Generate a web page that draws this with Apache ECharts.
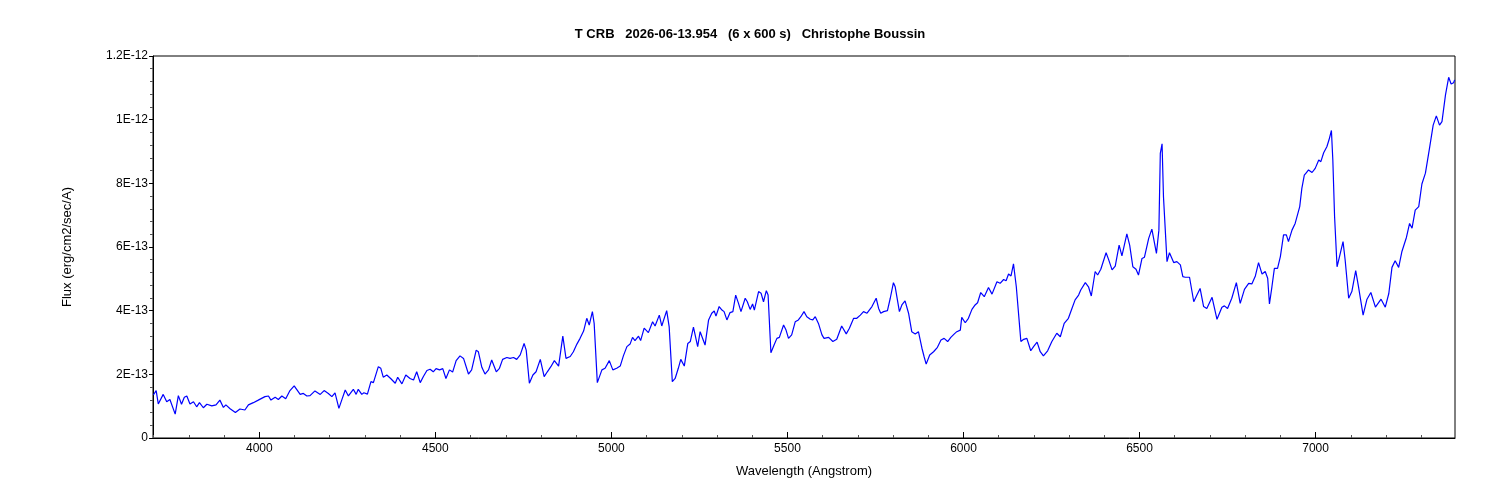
<!DOCTYPE html>
<html>
<head>
<meta charset="utf-8">
<script src="https://cdn.jsdelivr.net/npm/echarts@6/dist/echarts.min.js"></script>
<style>
  html, body { margin: 0; padding: 0; background: #fff; }
  #chart { width: 1500px; height: 500px; }
</style>
</head>
<body>
<div id="chart"></div>
<script>
// spectrum, flux in units of 1E-13 erg/cm2/sec/A
const wavelength = [
  3699, 3707, 3713, 3727, 3737, 3746, 3761, 3770, 3779, 3787, 3794, 3803, 3813, 3822, 3830, 3841,
  3851, 3865, 3877, 3888, 3898, 3905, 3917, 3932, 3945, 3959, 3969, 3983, 3997, 4016, 4026, 4033,
  4045, 4054, 4064, 4075, 4087, 4099, 4106, 4116, 4125, 4135, 4144, 4158, 4173, 4184, 4196, 4206,
  4215, 4226, 4234, 4244, 4253, 4267, 4275, 4281, 4291, 4297, 4307, 4317, 4324, 4338, 4345, 4352,
  4362, 4373, 4386, 4393, 4405, 4416, 4428, 4438, 4447,
  4457, 4466, 4476, 4485, 4494, 4502, 4512, 4521, 4530, 4540, 4549, 4559, 4570, 4580, 4594, 4603,
  4616, 4622, 4632, 4641, 4651, 4660, 4673, 4682, 4691, 4703, 4712, 4722, 4731, 4741, 4752, 4758,
  4767, 4777, 4786, 4798, 4809, 4818, 4828, 4838, 4850, 4862, 4871, 4883, 4892, 4902, 4911, 4921,
  4930, 4937, 4946, 4951, 4960, 4973, 4982, 4994, 5004, 5015, 5025, 5034, 5044, 5053, 5060, 5067,
  5077, 5083, 5093, 5105, 5117, 5124, 5136, 5143, 5157, 5164, 5173, 5181, 5190, 5197, 5207, 5217,
  5224, 5233, 5245,
  5252, 5266, 5276, 5285, 5292, 5297, 5306, 5314, 5320, 5328, 5337, 5345, 5353, 5361, 5368, 5380,
  5386, 5394, 5401, 5406, 5418, 5425, 5432, 5440, 5445, 5453, 5462, 5470, 5477, 5489, 5496, 5503,
  5512, 5522, 5531, 5538, 5547, 5555, 5565, 5572, 5579, 5588, 5598, 5604, 5617, 5629, 5640, 5654,
  5667, 5676, 5688, 5697, 5707, 5716, 5726, 5740, 5752, 5759, 5765, 5773, 5784, 5792, 5801, 5806,
  5818, 5825, 5834, 5844, 5853, 5863, 5872, 5882, 5888, 5894, 5904, 5915, 5926, 5936, 5945, 5955,
  5964, 5974, 5981,
  5991, 5995, 6005, 6014, 6024, 6033, 6040, 6049, 6059, 6071, 6081, 6095, 6104, 6114, 6121, 6128,
  6135, 6142, 6150, 6163, 6171, 6180, 6191, 6199, 6209, 6218, 6227, 6239, 6251, 6265, 6275, 6286,
  6298, 6308, 6317, 6327, 6333, 6346, 6355, 6363, 6374, 6381, 6390, 6405, 6412, 6422, 6431, 6442,
  6450, 6464, 6472, 6481, 6490, 6497, 6507, 6514, 6526, 6535, 6548, 6555, 6559, 6564, 6568, 6578,
  6585, 6597, 6606, 6616, 6623, 6630, 6642, 6654, 6663,
  6672, 6682, 6691, 6706, 6720, 6734, 6741, 6750, 6762, 6775, 6786, 6798, 6810, 6819, 6829, 6838,
  6848, 6857, 6864, 6869, 6876, 6883, 6892, 6900, 6909, 6917, 6923, 6933, 6942, 6955, 6961, 6968,
  6974, 6980, 6990, 6999, 7009, 7015, 7023, 7032, 7038, 7045, 7049, 7054, 7061, 7068, 7078, 7084,
  7094, 7103, 7114, 7122, 7135, 7146, 7157, 7170, 7179, 7186, 7198, 7208, 7217, 7226, 7236, 7245,
  7258, 7267, 7274, 7283, 7293, 7302, 7312, 7324, 7334, 7343, 7352, 7359, 7369, 7378, 7385, 7392,
  7395
];
const flux = [
  1.35, 1.49, 1.07, 1.37, 1.14, 1.21, 0.75, 1.33, 1.06, 1.28, 1.32, 1.07, 1.14, 0.98, 1.11, 0.95,
  1.06, 1.01, 1.04, 1.19, 0.96, 1.04, 0.92, 0.80, 0.91, 0.88, 1.04, 1.11, 1.19, 1.30, 1.32, 1.19,
  1.28, 1.21, 1.32, 1.23, 1.49, 1.64, 1.53, 1.37, 1.40, 1.32, 1.33, 1.48, 1.37, 1.49, 1.40, 1.30,
  1.42, 0.93, 1.19, 1.51, 1.32, 1.53, 1.37, 1.53, 1.37, 1.42, 1.38, 1.77, 1.74, 2.24, 2.19, 1.91,
  1.98, 1.87, 1.72, 1.91, 1.70, 1.98, 1.87, 1.82, 2.08,
  1.74, 1.93, 2.12, 2.16, 2.08, 2.18, 2.14, 2.18, 1.87, 2.14, 2.07, 2.43, 2.58, 2.50, 2.01, 2.14,
  2.76, 2.71, 2.22, 2.01, 2.14, 2.45, 2.08, 2.19, 2.47, 2.53, 2.50, 2.53, 2.47, 2.61, 2.97, 2.76,
  1.72, 1.98, 2.08, 2.47, 1.93, 2.08, 2.24, 2.43, 2.26, 3.20, 2.50, 2.56, 2.71, 2.95, 3.13, 3.36,
  3.76, 3.55, 3.97, 3.60, 1.74, 2.14, 2.19, 2.43, 2.14, 2.19, 2.26, 2.58, 2.87, 2.95, 3.16, 3.06,
  3.20, 3.06, 3.45, 3.31, 3.65, 3.52, 3.86, 3.52, 4.00, 3.50, 1.77, 1.87, 2.19, 2.47, 2.26, 2.97,
  3.03, 3.48, 2.87,
  3.34, 2.92, 3.71, 3.92, 3.99, 3.83, 4.13, 4.02, 3.97, 3.71, 3.94, 3.97, 4.49, 4.23, 3.97, 4.39,
  4.28, 4.04, 4.21, 4.02, 4.60, 4.55, 4.28, 4.63, 4.49, 2.68, 2.92, 3.13, 3.16, 3.55, 3.39, 3.13,
  3.24, 3.65, 3.71, 3.81, 3.97, 3.81, 3.73, 3.71, 3.81, 3.60, 3.24, 3.13, 3.16, 3.03, 3.10, 3.52,
  3.27, 3.45, 3.76, 3.76, 3.86, 3.97, 3.92, 4.13, 4.39, 4.07, 3.92, 3.97, 4.00, 4.39, 4.88, 4.75,
  3.97, 4.18, 4.31, 3.92, 3.34, 3.27, 3.34, 2.82, 2.56, 2.32, 2.61, 2.71, 2.85, 3.08, 3.13, 3.03,
  3.16, 3.27, 3.34,
  3.39, 3.79, 3.62, 3.76, 4.04, 4.18, 4.25, 4.57, 4.44, 4.73, 4.52, 4.91, 4.86, 4.98, 4.94, 5.15,
  5.09, 5.47, 4.75, 3.03, 3.10, 3.13, 2.74, 2.87, 3.01, 2.71, 2.58, 2.74, 3.03, 3.29, 3.18, 3.60,
  3.76, 4.07, 4.34, 4.49, 4.65, 4.88, 4.75, 4.46, 5.23, 5.12, 5.30, 5.82, 5.61, 5.28, 5.40, 6.06,
  5.72, 6.41, 6.06, 5.38, 5.30, 5.12, 5.64, 5.68, 6.27, 6.56, 5.80, 6.53, 8.94, 9.24, 7.58, 5.54,
  5.82, 5.51, 5.54, 5.44, 5.07, 5.05, 5.05, 4.28, 4.49,
  4.70, 4.13, 4.07, 4.42, 3.73, 4.11, 4.15, 4.07, 4.39, 4.88, 4.23, 4.67, 4.86, 4.84, 5.09, 5.51,
  5.15, 5.23, 5.02, 4.21, 4.75, 5.33, 5.33, 5.70, 6.38, 6.38, 6.17, 6.53, 6.74, 7.27, 7.84, 8.26,
  8.34, 8.42, 8.34, 8.47, 8.73, 8.68, 8.96, 9.15, 9.36, 9.66, 8.73, 6.95, 5.38, 5.70, 6.17, 5.59,
  4.39, 4.60, 5.26, 4.75, 3.86, 4.36, 4.57, 4.11, 4.25, 4.36, 4.11, 4.54, 5.36, 5.57, 5.36, 5.85,
  6.30, 6.74, 6.59, 7.16, 7.27, 7.98, 8.32, 9.13, 9.83, 10.12, 9.83, 9.94, 10.78, 11.33, 11.12, 11.16,
  11.25
];
const xMajorTicks = [4000, 4500, 5000, 5500, 6000, 6500, 7000];
const xMinorTicks = [3700, 3800, 3900, 4100, 4200, 4300, 4400, 4600, 4700, 4800, 4900, 5100, 5200, 5300,
  5400, 5600, 5700, 5800, 5900, 6100, 6200, 6300, 6400, 6600, 6700, 6800, 6900, 7100, 7200, 7300];
const yTickLabels = ['0', '2E-13', '4E-13', '6E-13', '8E-13', '1E-12', '1.2E-12'];

const font = 'Liberation Sans, Arial, sans-serif';
const chart = echarts.init(document.getElementById('chart'));

chart.setOption({
  animation: false,
  title: {
    text: 'T CRB   2026-06-13.954   (6 x 600 s)   Christophe Boussin',
    left: 'center',
    top: 23,
    textStyle: { fontFamily: font, fontSize: 13, fontWeight: 'bold', color: '#000' }
  },
  grid: {
    left: 153,
    right: 45,
    top: 56,
    bottom: 62,
    show: true,
    borderColor: '#000',
    borderWidth: 1,
    backgroundColor: '#fff'
  },
  xAxis: [{
    type: 'value',
    min: 3698,
    max: 7396,
    name: 'Wavelength (Angstrom)',
    nameLocation: 'middle',
    nameGap: 27,
    nameTextStyle: { fontFamily: font, fontSize: 13, color: '#000' },
    axisLine: { lineStyle: { color: '#000', width: 1 } },
    axisTick: { customValues: xMajorTicks, inside: true, length: 6, lineStyle: { color: '#000' } },
    axisLabel: {
      customValues: xMajorTicks,
      margin: 5,
      fontFamily: font,
      fontSize: 12,
      color: '#000',
      formatter: (v) => String(v)
    },
    splitLine: { show: false }
  }, {
    type: 'value',
    min: 3698,
    max: 7396,
    position: 'bottom',
    axisLine: { show: false },
    axisTick: { customValues: xMinorTicks, inside: true, length: 3, lineStyle: { color: '#555' } },
    axisLabel: { show: false },
    splitLine: { show: false }
  }],
  yAxis: {
    type: 'value',
    min: 0,
    max: 12,
    interval: 2,
    name: 'Flux (erg/cm2/sec/A)',
    nameLocation: 'middle',
    nameGap: 79,
    nameTextStyle: { fontFamily: font, fontSize: 13, color: '#000' },
    axisLine: { show: true, lineStyle: { color: '#000', width: 1 } },
    axisTick: { show: true, length: 4, lineStyle: { color: '#000' } },
    minorTick: { show: true, splitNumber: 5, length: 3, lineStyle: { color: '#555' } },
    axisLabel: {
      margin: 5,
      fontFamily: font,
      fontSize: 12,
      color: '#000',
      formatter: (v) => yTickLabels[Math.round(v / 2)]
    },
    splitLine: { show: false }
  },
  series: [{
    type: 'line',
    xAxisIndex: 0,
    data: wavelength.map((w, i) => [w, flux[i]]),
    showSymbol: false,
    lineStyle: { color: '#0000ff', width: 1.2 },
    itemStyle: { color: '#0000ff' }
  }]
});
</script>
</body>
</html>
